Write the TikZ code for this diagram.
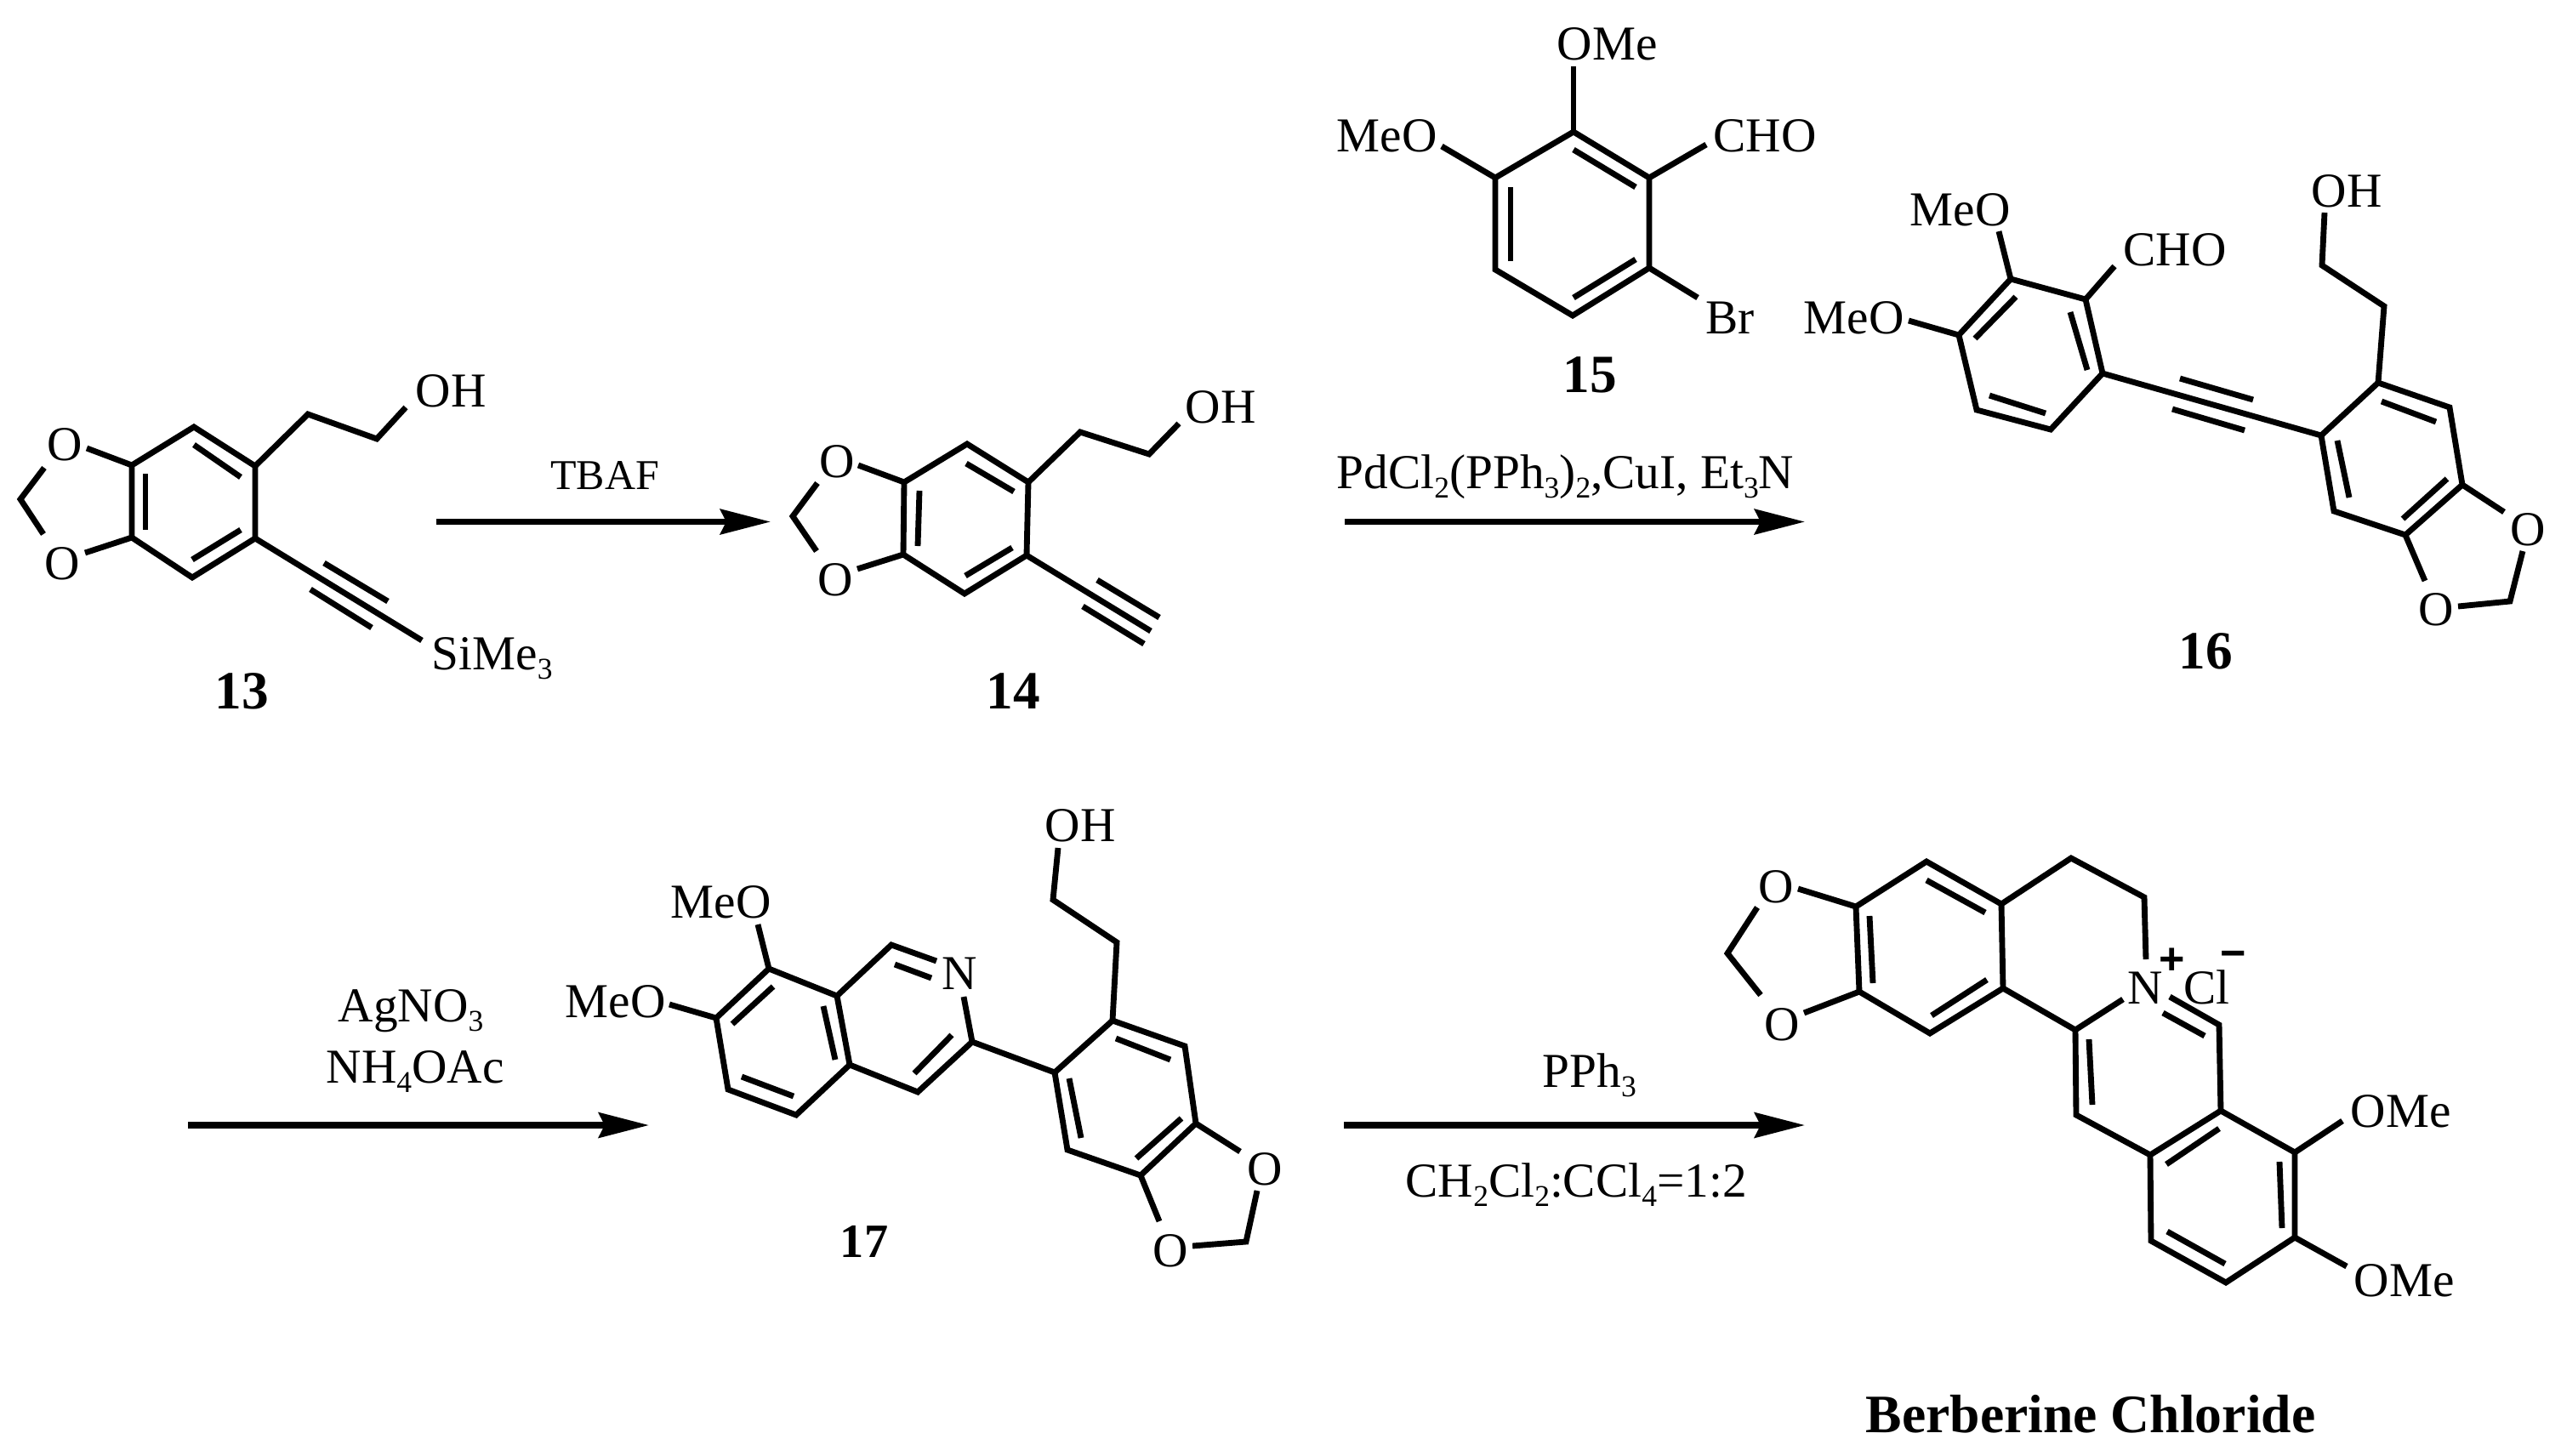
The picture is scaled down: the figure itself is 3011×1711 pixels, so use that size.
\documentclass[tikz,border=0pt]{standalone}
\usepackage{fontspec}
\setmainfont{Liberation Serif}
\newfontfamily\chgfont{Liberation Sans}
\usetikzlibrary{arrows.meta}

\newcommand{\lowidx}[1]{\raisebox{-0.2em}{\fontsize{10.1}{10.1}\selectfont #1}}

\tikzset{
	bond/.style={line width=1.95pt},
	rxn/.style={line width=2.05pt,-{Stealth[length=16.8pt,width=8.4pt,inset=2pt]}},
	atomlab/.style={inner sep=0pt,anchor=base west,font=\fontsize{16.3}{18}\selectfont},
	atomc/.style={atomlab,anchor=base},
	cpdlab/.style={inner sep=0pt,anchor=base,font=\fontsize{18}{20}\selectfont\bfseries},
	chg/.style={inner sep=0pt,font=\fontsize{14.8}{15}\selectfont\chgfont\bfseries}
}

\begin{document}
\begin{tikzpicture}[x=0.01cm,y=-0.01cm]
		\useasboundingbox (0,0) rectangle (3011,1711);
		
		% Compound 13
		% Ring atoms
		\coordinate (c13a) at (228,502); \coordinate (c13b) at (300,548); \coordinate (c13c) at (300,633);
		\coordinate (c13d) at (226,679); \coordinate (c13e) at (155,632); \coordinate (c13f) at (155,547);
		\coordinate (d13a) at (228,523); \coordinate (d13b) at (283,561);
		\coordinate (d13c) at (283,623); \coordinate (d13d) at (226,658);
		\coordinate (d13e) at (171,623); \coordinate (d13f) at (171,557);
		% Side chain, dioxole and alkyne
		\coordinate (c13g) at (362,487); \coordinate (c13h) at (443,516); \coordinate (e13oh) at (477,479);
		\coordinate (c13m) at (24,587); \coordinate (e13oa) at (102,527); \coordinate (e13ob) at (100,650);
		\coordinate (e13ma) at (52,550); \coordinate (e13mb) at (51,628);
		\coordinate (e13si) at (496,753); \coordinate (t13a) at (381,662); \coordinate (t13b) at (456,707);
		\coordinate (t13c) at (365,693); \coordinate (t13d) at (437,738);
		% Draw bonds
		\draw [bond] (c13a) -- (c13b) -- (c13c) -- (c13d) -- (c13e) -- (c13f) -- cycle;
		\draw [bond] (d13a) -- (d13b);
		\draw [bond] (d13c) -- (d13d);
		\draw [bond] (d13e) -- (d13f);
		\draw [bond] (c13b) -- (c13g) -- (c13h) -- (e13oh);
		\draw [bond] (c13f) -- (e13oa);
		\draw [bond] (c13e) -- (e13ob);
		\draw [bond] (e13ma) -- (c13m) -- (e13mb);
		\draw [bond] (c13c) -- (e13si);
		\draw [bond] (t13a) -- (t13b);
		\draw [bond] (t13c) -- (t13d);
		% Labels
		\node [atomlab] (oh13) at (488,478) {OH};
		\node [atomc] (oa13) at (76,541) {O};
		\node [atomc] (ob13) at (73,681) {O};
		\node [atomlab] (si13) at (507,787) {SiMe\lowidx{3}};
		\node [cpdlab] (n13) at (284,833) {13};
		
		% First arrow
		\coordinate (r1s) at (513,613.5); \coordinate (r1e) at (906,613.5);
		\draw [rxn] (r1s) -- (r1e);
		\node [atomc,font=\fontsize{14.2}{16}\selectfont] (tbaf) at (711,575) {TBAF};
		
		% Compound 14
		% Ring atoms
		\coordinate (c14a) at (1137,522); \coordinate (c14b) at (1209,567); \coordinate (c14c) at (1207,653);
		\coordinate (c14d) at (1134,698); \coordinate (c14e) at (1062,652); \coordinate (c14f) at (1063,567);
		\coordinate (d14a) at (1136,545); \coordinate (d14b) at (1192,578);
		\coordinate (d14c) at (1190,644); \coordinate (d14d) at (1135,677);
		\coordinate (d14e) at (1079,642); \coordinate (d14f) at (1081,577);
		% Side chain, dioxole and alkyne
		\coordinate (c14g) at (1270,508); \coordinate (c14h) at (1351,534); \coordinate (e14oh) at (1386,498);
		\coordinate (c14m) at (932,607); \coordinate (e14oa) at (1009,547); \coordinate (e14ob) at (1008,669);
		\coordinate (e14ma) at (961,568); \coordinate (e14mb) at (960,648);
		\coordinate (e14t) at (1353,742); \coordinate (t14a) at (1290,682); \coordinate (t14b) at (1363,726);
		\coordinate (t14c) at (1273,713); \coordinate (t14d) at (1345,757);
		% Draw bonds
		\draw [bond] (c14a) -- (c14b) -- (c14c) -- (c14d) -- (c14e) -- (c14f) -- cycle;
		\draw [bond] (d14a) -- (d14b);
		\draw [bond] (d14c) -- (d14d);
		\draw [bond] (d14e) -- (d14f);
		\draw [bond] (c14b) -- (c14g) -- (c14h) -- (e14oh);
		\draw [bond] (c14f) -- (e14oa);
		\draw [bond] (c14e) -- (e14ob);
		\draw [bond] (e14ma) -- (c14m) -- (e14mb);
		\draw [bond] (c14c) -- (e14t);
		\draw [bond] (t14a) -- (t14b);
		\draw [bond] (t14c) -- (t14d);
		% Labels
		\node [atomlab] (oh14) at (1393,497) {OH};
		\node [atomc] (oa14) at (984,561) {O};
		\node [atomc] (ob14) at (982,700) {O};
		\node [cpdlab] (n14) at (1191,833) {14};
		
		% Compound 15
		\coordinate (c15a) at (1850,155); \coordinate (c15b) at (1939,209); \coordinate (c15c) at (1939,315);
		\coordinate (c15d) at (1849,371); \coordinate (c15e) at (1758,317); \coordinate (c15f) at (1758,209);
		\coordinate (d15a) at (1850,176); \coordinate (d15b) at (1923,220);
		\coordinate (d15c) at (1923,305); \coordinate (d15d) at (1850,350);
		\coordinate (d15e) at (1776,307); \coordinate (d15f) at (1776,220);
		\coordinate (e15a) at (1850,78); \coordinate (e15b) at (1695,172);
		\coordinate (e15c) at (2006,170); \coordinate (e15d) at (1996,350);
		\draw [bond] (c15a) -- (c15b) -- (c15c) -- (c15d) -- (c15e) -- (c15f) -- cycle;
		\draw [bond] (d15a) -- (d15b);
		\draw [bond] (d15c) -- (d15d);
		\draw [bond] (d15e) -- (d15f);
		\draw [bond] (c15a) -- (e15a);
		\draw [bond] (c15f) -- (e15b);
		\draw [bond] (c15b) -- (e15c);
		\draw [bond] (c15c) -- (e15d);
		\node [atomlab] (ome15) at (1830,70) {OMe};
		\node [atomlab] (meo15) at (1571,178) {MeO};
		\node [atomlab] (cho15) at (2014,178) {CHO};
		\node [atomlab] (br15) at (2005,392) {Br};
		\node [cpdlab] (n15) at (1869,461) {15};
		
		% Second arrow
		\coordinate (r2s) at (1581,613.5); \coordinate (r2e) at (2122,613.5);
		\draw [rxn] (r2s) -- (r2e);
		\node [atomlab] (pdcl) at (1571,574) {PdCl\lowidx{2}(PPh\lowidx{3})\lowidx{2},CuI, Et\lowidx{3}N};
		
		% Compound 16
		% Aldehyde ring
		\coordinate (c16a) at (2364,328); \coordinate (c16b) at (2452,352); \coordinate (c16c) at (2472,439);
		\coordinate (c16d) at (2411,505); \coordinate (c16e) at (2324,482); \coordinate (c16f) at (2303,394);
		\coordinate (d16a) at (2370,349); \coordinate (d16b) at (2322,398);
		\coordinate (d16c) at (2434,367); \coordinate (d16d) at (2454,435);
		\coordinate (d16e) at (2405,486); \coordinate (d16f) at (2339,465);
		\coordinate (e16a) at (2350,272); \coordinate (e16b) at (2244,377); \coordinate (e16c) at (2486,313);
		% Alkyne
		\coordinate (t16a) at (2563,445); \coordinate (t16b) at (2649,470);
		\coordinate (t16c) at (2554,481); \coordinate (t16d) at (2639,506);
		% Benzodioxole ring
		\coordinate (g16a) at (2729,512); \coordinate (g16b) at (2796,450); \coordinate (g16c) at (2880,479);
		\coordinate (g16d) at (2895,570); \coordinate (g16e) at (2828,629); \coordinate (g16f) at (2744,601);
		\coordinate (h16a) at (2748,518); \coordinate (h16b) at (2762,585);
		\coordinate (h16c) at (2800,472); \coordinate (h16d) at (2864,496);
		\coordinate (h16e) at (2877,563); \coordinate (h16f) at (2825,610);
		\coordinate (g16g) at (2803,360); \coordinate (g16h) at (2730,312); \coordinate (e16oh) at (2733,250);
		\coordinate (c16m) at (2951,707); \coordinate (e16oa) at (2944,602); \coordinate (e16ob) at (2851,683);
		\coordinate (e16ma) at (2966,648); \coordinate (e16mb) at (2890,713);
		% Draw bonds
		\draw [bond] (c16a) -- (c16b) -- (c16c) -- (c16d) -- (c16e) -- (c16f) -- cycle;
		\draw [bond] (d16a) -- (d16b);
		\draw [bond] (d16c) -- (d16d);
		\draw [bond] (d16e) -- (d16f);
		\draw [bond] (c16a) -- (e16a);
		\draw [bond] (c16f) -- (e16b);
		\draw [bond] (c16b) -- (e16c);
		\draw [bond] (c16c) -- (g16a);
		\draw [bond] (t16a) -- (t16b);
		\draw [bond] (t16c) -- (t16d);
		\draw [bond] (g16a) -- (g16b) -- (g16c) -- (g16d) -- (g16e) -- (g16f) -- cycle;
		\draw [bond] (h16a) -- (h16b);
		\draw [bond] (h16c) -- (h16d);
		\draw [bond] (h16e) -- (h16f);
		\draw [bond] (g16b) -- (g16g) -- (g16h) -- (e16oh);
		\draw [bond] (g16d) -- (e16oa);
		\draw [bond] (g16e) -- (e16ob);
		\draw [bond] (e16ma) -- (c16m) -- (e16mb);
		% Labels
		\node [atomlab] (meoa16) at (2245,265) {MeO};
		\node [atomlab] (meob16) at (2120,392) {MeO};
		\node [atomlab] (cho16) at (2496,312) {CHO};
		\node [atomlab] (oh16) at (2717,243) {OH};
		\node [atomc] (oa16) at (2972,641) {O};
		\node [atomc] (ob16) at (2864,735) {O};
		\node [cpdlab] (n16) at (2593,786) {16};
		
		% Third arrow
		\coordinate (r3s) at (221,1323); \coordinate (r3e) at (763,1323);
		\draw [rxn] (r3s) -- (r3e);
		\node [atomlab] (agno) at (397,1201) {AgNO\lowidx{3}};
		\node [atomlab] (nhoac) at (383,1273) {NH\lowidx{4}OAc};
		
		% Compound 17
		% Isoquinoline
		\coordinate (c17a) at (904,1139); \coordinate (c17b) at (984,1171); \coordinate (c17c) at (999,1252);
		\coordinate (c17d) at (936,1311); \coordinate (c17e) at (856,1281); \coordinate (c17f) at (842,1197);
		\coordinate (d17a) at (909,1160); \coordinate (d17b) at (861,1204);
		\coordinate (d17c) at (968,1183); \coordinate (d17d) at (982,1246);
		\coordinate (d17e) at (933,1289); \coordinate (d17f) at (872,1266);
		\coordinate (p17a) at (1048,1111); \coordinate (p17b) at (1101,1130); \coordinate (p17c) at (1133,1172);
		\coordinate (p17d) at (1143,1225); \coordinate (p17e) at (1079,1284);
		\coordinate (q17a) at (1052,1134); \coordinate (q17b) at (1095,1150);
		\coordinate (q17c) at (1119,1217); \coordinate (q17d) at (1075,1262);
		\coordinate (e17a) at (891,1087); \coordinate (e17b) at (787,1181);
		% Benzodioxole ring
		\coordinate (g17a) at (1240,1261); \coordinate (g17b) at (1308,1200); \coordinate (g17c) at (1393,1230);
		\coordinate (g17d) at (1406,1321); \coordinate (g17e) at (1341,1382); \coordinate (g17f) at (1255,1352);
		\coordinate (h17a) at (1257,1268); \coordinate (h17b) at (1271,1338);
		\coordinate (h17c) at (1312,1221); \coordinate (h17d) at (1376,1246);
		\coordinate (h17e) at (1389,1315); \coordinate (h17f) at (1336,1362);
		\coordinate (g17g) at (1313,1108); \coordinate (g17h) at (1238,1058); \coordinate (e17oh) at (1244,997);
		\coordinate (c17m) at (1465,1460); \coordinate (e17oa) at (1458,1354); \coordinate (e17ob) at (1363,1436);
		\coordinate (e17ma) at (1478,1400); \coordinate (e17mb) at (1402,1465);
		% Draw bonds
		\draw [bond] (c17a) -- (c17b) -- (c17c) -- (c17d) -- (c17e) -- (c17f) -- cycle;
		\draw [bond] (d17a) -- (d17b);
		\draw [bond] (d17c) -- (d17d);
		\draw [bond] (d17e) -- (d17f);
		\draw [bond] (c17b) -- (p17a) -- (p17b);
		\draw [bond] (p17c) -- (p17d) -- (p17e) -- (c17c);
		\draw [bond] (q17a) -- (q17b);
		\draw [bond] (q17c) -- (q17d);
		\draw [bond] (c17a) -- (e17a);
		\draw [bond] (c17f) -- (e17b);
		\draw [bond] (p17d) -- (g17a);
		\draw [bond] (g17a) -- (g17b) -- (g17c) -- (g17d) -- (g17e) -- (g17f) -- cycle;
		\draw [bond] (h17a) -- (h17b);
		\draw [bond] (h17c) -- (h17d);
		\draw [bond] (h17e) -- (h17f);
		\draw [bond] (g17b) -- (g17g) -- (g17h) -- (e17oh);
		\draw [bond] (g17d) -- (e17oa);
		\draw [bond] (g17e) -- (e17ob);
		\draw [bond] (e17ma) -- (c17m) -- (e17mb);
		% Labels
		\node [atomlab] (meoa17) at (788,1079) {MeO};
		\node [atomlab] (meob17) at (664,1196) {MeO};
		\node [atomc] (n17a) at (1128,1163) {N};
		\node [atomlab] (oh17) at (1228,989) {OH};
		\node [atomc] (oa17) at (1487,1393) {O};
		\node [atomc] (ob17) at (1376,1489) {O};
		\node [cpdlab,font=\fontsize{16}{18}\selectfont\bfseries] (n17) at (1016,1478) {17};
		
		% Fourth arrow
		\coordinate (r4s) at (1580,1323); \coordinate (r4e) at (2122,1323);
		\draw [rxn] (r4s) -- (r4e);
		\node [atomlab] (ppha) at (1813,1278) {PPh\lowidx{3}};
		\node [atomlab] (solv) at (1652,1407) {CH\lowidx{2}Cl\lowidx{2}:CCl\lowidx{4}=1:2};
		
		% Berberine chloride
		% Benzodioxole ring
		\coordinate (c18a) at (2265,1013); \coordinate (c18b) at (2353,1063); \coordinate (c18c) at (2355,1162);
		\coordinate (c18d) at (2269,1215); \coordinate (c18e) at (2186,1166); \coordinate (c18f) at (2182,1066);
		\coordinate (d18a) at (2265,1035); \coordinate (d18b) at (2334,1073);
		\coordinate (d18c) at (2336,1152); \coordinate (d18d) at (2271,1194);
		\coordinate (d18e) at (2202,1156); \coordinate (d18f) at (2198,1077);
		\coordinate (c18m) at (2031,1121); \coordinate (e18oa) at (2114,1045); \coordinate (e18ob) at (2121,1191);
		\coordinate (e18ma) at (2066,1067); \coordinate (e18mb) at (2070,1170);
		% Central rings
		\coordinate (g18a) at (2435,1009); \coordinate (g18b) at (2521,1055); \coordinate (e18n) at (2523,1128);
		\coordinate (h18a) at (2440,1211); \coordinate (e18na) at (2496,1175); \coordinate (h18b) at (2441,1311);
		\coordinate (h18c) at (2528,1358); \coordinate (e18nb) at (2551,1172); \coordinate (h18d) at (2609,1205);
		\coordinate (h18e) at (2611,1306);
		\coordinate (j18a) at (2456,1222); \coordinate (j18b) at (2460,1299);
		\coordinate (j18c) at (2543,1191); \coordinate (j18d) at (2592,1218);
		\coordinate (j18e) at (2609,1327); \coordinate (j18f) at (2547,1369);
		% Dimethoxy ring
		\coordinate (k18a) at (2698,1355); \coordinate (k18b) at (2698,1455); \coordinate (k18c) at (2617,1508);
		\coordinate (k18d) at (2529,1459);
		\coordinate (l18a) at (2680,1366); \coordinate (l18b) at (2683,1444);
		\coordinate (l18c) at (2616,1486); \coordinate (l18d) at (2548,1448);
		\coordinate (e18a) at (2754,1318); \coordinate (e18b) at (2759,1489);
		% Draw bonds
		\draw [bond] (c18a) -- (c18b) -- (c18c) -- (c18d) -- (c18e) -- (c18f) -- cycle;
		\draw [bond] (d18a) -- (d18b);
		\draw [bond] (d18c) -- (d18d);
		\draw [bond] (d18e) -- (d18f);
		\draw [bond] (c18f) -- (e18oa);
		\draw [bond] (c18e) -- (e18ob);
		\draw [bond] (e18ma) -- (c18m) -- (e18mb);
		\draw [bond] (c18b) -- (g18a) -- (g18b) -- (e18n);
		\draw [bond] (c18c) -- (h18a) -- (e18na);
		\draw [bond] (h18a) -- (h18b) -- (h18c);
		\draw [bond] (e18nb) -- (h18d) -- (h18e);
		\draw [bond] (j18a) -- (j18b);
		\draw [bond] (j18c) -- (j18d);
		\draw [bond] (j18e) -- (j18f);
		\draw [bond] (h18c) -- (h18e) -- (k18a) -- (k18b) -- (k18c) -- (k18d) -- cycle;
		\draw [bond] (l18a) -- (l18b);
		\draw [bond] (l18c) -- (l18d);
		\draw [bond] (k18a) -- (e18a);
		\draw [bond] (k18b) -- (e18b);
		% Labels
		\node [atomc] (oa18) at (2088,1061) {O};
		\node [atomc] (ob18) at (2095,1223) {O};
		\node [atomc] (n18) at (2522,1180) {N};
		\node [atomlab] (cl18) at (2567,1180) {Cl};
		\node [chg] (plus18) at (2554,1130) {+};
		\node [chg] (minus18) at (2626,1128) {−};
		\node [atomlab] (omea18) at (2763,1325) {OMe};
		\node [atomlab] (omeb18) at (2767,1524) {OMe};
		\node [inner sep=0pt,anchor=base west,font=\fontsize{18.1}{20}\selectfont\bfseries] (name18) at (2193,1684) {Berberine Chloride};
		
\end{tikzpicture}
\end{document}
